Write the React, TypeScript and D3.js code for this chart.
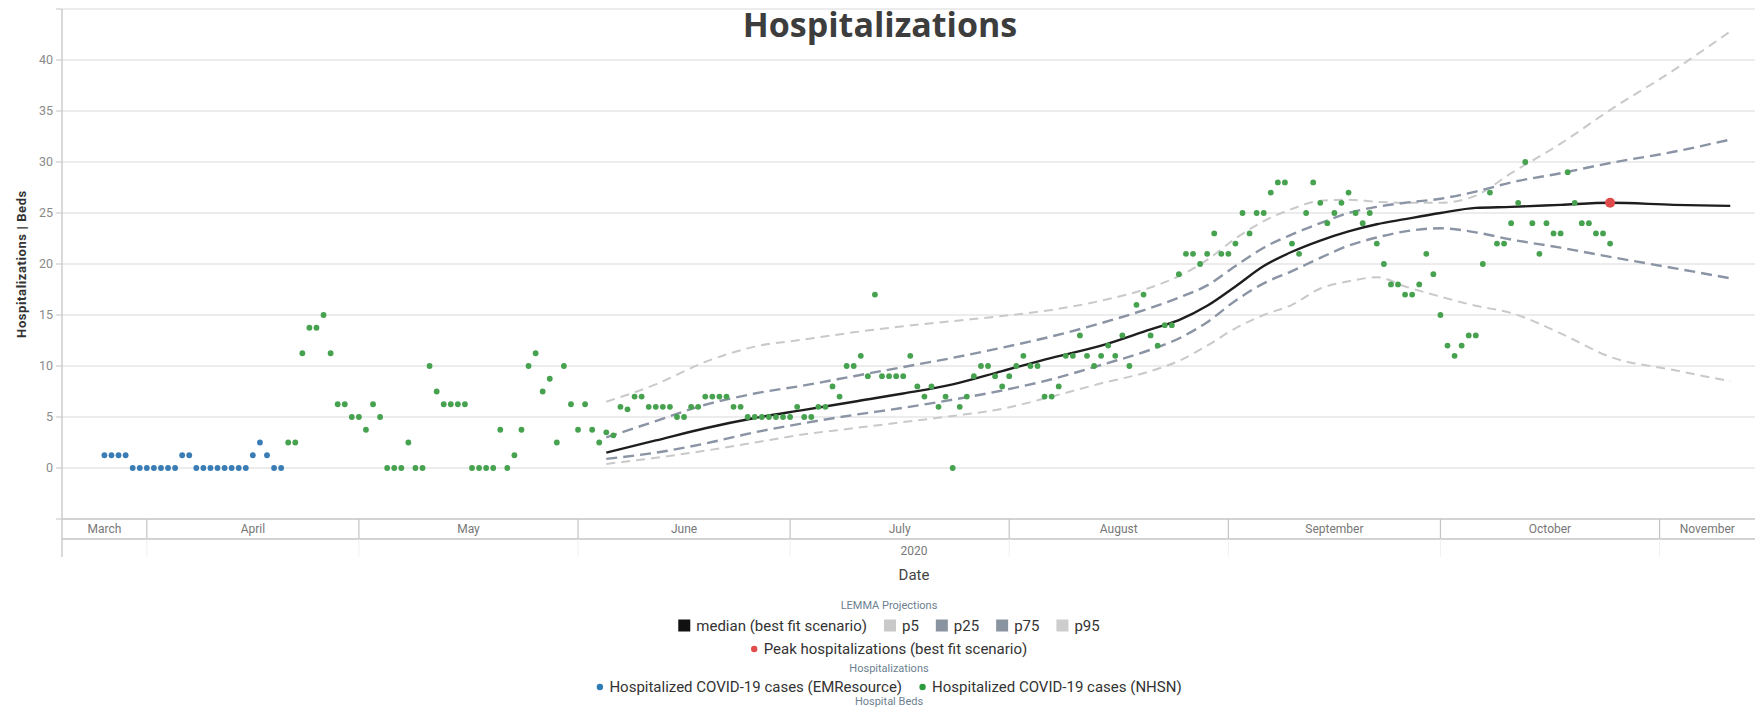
import React, { useRef, useEffect } from 'react';
import * as d3 from 'd3';

// Daily hospitalized COVID-19 cases
const emresourceStart = '2020-03-26';
const emresourceCases = [
  1.25, 1.25, 1.25, 1.25, 0, 0, 0, 0, 0, 0, 0, 1.25, 1.25, 0, 0, 0, 0, 0, 0, 0, 0,
  1.25, 2.5, 1.25, 0, 0,
];

const nhsnStart = '2020-04-21';
const nhsnCases = [
  2.5, 2.5, 11.25, 13.75, 13.75, 15, 11.25, 6.25, 6.25, 5, 5, 3.75, 6.25, 5, 0, 0, 0, 2.5, 0, 0,
  10, 7.5, 6.25, 6.25, 6.25, 6.25, 0, 0, 0, 0, 3.75, 0, 1.25, 3.75, 10, 11.25, 7.5, 8.75, 2.5, 10,
  6.25, 3.75, 6.25, 3.75, 2.5, 3.5, 3.2, 6, 5.75, 7, 7, 6, 6, 6, 6, 5, 5, 6, 6, 7,
  7, 7, 7, 6, 6, 5, 5, 5, 5, 5, 5, 5, 6, 5, 5, 6, 6, 8, 7, 10,
  10, 11, 9, 17, 9, 9, 9, 9, 11, 8, 7, 8, 6, 7, 0, 6, 7, 9, 10, 10,
  9, 8, 9, 10, 11, 10, 10, 7, 7, 8, 11, 11, 13, 11, 10, 11, 12, 11, 13, 10,
  16, 17, 13, 12, 14, 14, 19, 21, 21, 20, 21, 23, 21, 21, 22, 25, 23, 25, 25, 27,
  28, 28, 22, 21, 25, 28, 26, 24, 25, 26, 27, 25, 24, 25, 22, 20, 18, 18, 17, 17,
  18, 21, 19, 15, 12, 11, 12, 13, 13, 20, 27, 22, 22, 24, 26, 30, 24, 21, 24, 23,
  23, 29, 26, 24, 24, 23, 23, 22,
];

// LEMMA projections
const projDates = [
  '2020-06-05', '2020-06-12', '2020-06-19', '2020-06-26', '2020-07-03', '2020-07-10',
  '2020-07-17', '2020-07-24', '2020-07-31', '2020-08-07', '2020-08-14', '2020-08-21',
  '2020-08-25', '2020-08-29', '2020-09-02', '2020-09-06', '2020-09-10', '2020-09-14',
  '2020-09-18', '2020-09-22', '2020-09-26', '2020-10-01', '2020-10-06', '2020-10-11',
  '2020-10-18', '2020-10-25', '2020-11-03', '2020-11-11',
];
const median = [
  1.5, 2.7, 3.9, 4.9, 5.7, 6.5, 7.3, 8.2, 9.5, 10.8, 12.0, 13.6, 14.5, 15.9, 17.8, 19.8, 21.2,
  22.3, 23.2, 23.9, 24.4, 25.0, 25.5, 25.6, 25.8, 26.0, 25.8, 25.7,
];
const p5 = [
  0.4, 1.0, 1.7, 2.5, 3.3, 3.9, 4.5, 5.1, 5.8, 7.0, 8.3, 9.5, 10.5, 12.0, 13.7, 15.0, 16.0,
  17.6, 18.3, 18.7, 17.8, 16.8, 15.9, 15.2, 13.2, 10.9, 9.6, 8.5,
];
const p25 = [
  0.9, 1.5, 2.4, 3.5, 4.4, 5.2, 5.9, 6.7, 7.6, 8.7, 10.1, 11.6, 12.7, 14.3, 16.4, 18.1, 19.3,
  20.6, 21.8, 22.6, 23.2, 23.5, 23.1, 22.4, 21.6, 20.7, 19.6, 18.6,
];
const p75 = [
  3.0, 4.6, 6.2, 7.3, 8.1, 9.0, 9.9, 10.8, 11.8, 12.9, 14.2, 15.7, 16.7, 17.9, 19.8, 21.6, 22.9,
  24.0, 25.0, 25.6, 26.0, 26.4, 27.1, 28.0, 28.9, 29.9, 31.0, 32.2,
];
const p95 = [
  6.5, 8.2, 10.4, 11.9, 12.6, 13.3, 13.9, 14.4, 14.9, 15.5, 16.4, 17.7, 18.8, 20.4, 22.5, 24.2,
  25.4, 26.2, 26.3, 26.1, 26.0, 26.0, 26.7, 28.9, 31.8, 35.1, 39.0, 42.8,
];

const peakDate = '2020-10-25';
const peakValue = 26.0;

const yTicks = [0, 5, 10, 15, 20, 25, 30, 35, 40];
const monthLabels = ['March', 'April', 'May', 'June', 'July', 'August', 'September', 'October', 'November'];

const W = 1755;
const H = 710;
const font = 'Roboto, "DejaVu Sans", sans-serif';

const App: React.FC = () => {
  const svgRef = useRef<SVGSVGElement>(null);

  useEffect(() => {
    if (!svgRef.current) return;
    document.body.style.margin = '0';
    const svg = d3.select(svgRef.current);
    svg.selectAll('*').remove();

    const parse = d3.timeParse('%Y-%m-%d');
    const left = 62;
    const right = W;

    const x = d3
      .scaleTime()
      .domain([new Date(2020, 2, 20), new Date(2020, 10, 14, 12)])
      .range([left, right]);
    const y = d3.scaleLinear().domain([-5, 45]).range([519, 9]);

    // grid lines
    svg
      .append('g')
      .selectAll('line')
      .data(d3.range(0, 50, 5))
      .enter()
      .append('line')
      .attr('x1', left)
      .attr('x2', right)
      .attr('y1', (d) => y(d))
      .attr('y2', (d) => y(d))
      .attr('stroke', '#e6e6e6')
      .attr('stroke-width', 1.5);

    // y axis
    svg
      .append('line')
      .attr('x1', left)
      .attr('x2', left)
      .attr('y1', y(45))
      .attr('y2', 557)
      .attr('stroke', '#cdcdcd')
      .attr('stroke-width', 1.5);

    svg
      .append('g')
      .selectAll('line')
      .data(d3.range(-5, 50, 5))
      .enter()
      .append('line')
      .attr('x1', left - 6)
      .attr('x2', left)
      .attr('y1', (d) => y(d))
      .attr('y2', (d) => y(d))
      .attr('stroke', '#cdcdcd')
      .attr('stroke-width', 1.2);

    svg
      .append('g')
      .selectAll('text')
      .data(yTicks)
      .enter()
      .append('text')
      .attr('x', left - 9)
      .attr('y', (d) => y(d))
      .attr('dy', '0.35em')
      .attr('text-anchor', 'end')
      .style('font-family', font)
      .style('font-size', '12.5px')
      .style('fill', '#8a8a8a')
      .text((d) => d);

    svg
      .append('text')
      .attr('transform', `translate(21,${y(20)}) rotate(-90)`)
      .attr('text-anchor', 'middle')
      .attr('dy', '0.35em')
      .style('font-family', font)
      .style('font-size', '13px')
      .style('font-weight', 'bold')
      .style('letter-spacing', '0.6px')
      .style('fill', '#333')
      .text('Hospitalizations | Beds');

    // x axis month band
    const bandTop = y(-5);
    const bandBottom = 539;
    const axisG = svg.append('g');
    [bandTop, bandBottom].forEach((yy) =>
      axisG
        .append('line')
        .attr('x1', left)
        .attr('x2', right)
        .attr('y1', yy)
        .attr('y2', yy)
        .attr('stroke', '#c4c4c4')
        .attr('stroke-width', 1.5),
    );
    const [d0, d1] = x.domain();
    const months = d3.timeMonth.range(new Date(2020, 2, 1), new Date(2020, 11, 1));
    months.forEach((m, i) => {
      const start = m < d0 ? d0 : m;
      const next = d3.timeMonth.offset(m, 1);
      const end = next > d1 ? d1 : next;
      if (m > d0) {
        axisG
          .append('line')
          .attr('x1', x(m))
          .attr('x2', x(m))
          .attr('y1', bandTop)
          .attr('y2', bandBottom)
          .attr('stroke', '#c4c4c4')
          .attr('stroke-width', 1.2);
        axisG
          .append('line')
          .attr('x1', x(m))
          .attr('x2', x(m))
          .attr('y1', bandBottom)
          .attr('y2', 557)
          .attr('stroke', '#f0f0f0');
      }
      axisG
        .append('text')
        .attr('x', (x(start) + x(end)) / 2)
        .attr('y', (bandTop + bandBottom) / 2)
        .attr('dy', '0.35em')
        .attr('text-anchor', 'middle')
        .style('font-family', font)
        .style('font-size', '12px')
        .style('fill', '#777')
        .text(monthLabels[i]);
    });

    const axisMid = 914;
    axisG
      .append('text')
      .attr('x', axisMid)
      .attr('y', 551)
      .attr('dy', '0.35em')
      .attr('text-anchor', 'middle')
      .style('font-family', font)
      .style('font-size', '12px')
      .style('fill', '#777')
      .text('2020');
    axisG
      .append('text')
      .attr('x', axisMid)
      .attr('y', 575)
      .attr('dy', '0.35em')
      .attr('text-anchor', 'middle')
      .style('font-family', font)
      .style('font-size', '15px')
      .style('fill', '#444')
      .text('Date');

    // projection lines
    const projPts = (vals: number[]) => projDates.map((d, i) => ({ date: parse(d) as Date, v: vals[i] }));
    const line = d3
      .line<{ date: Date; v: number }>()
      .x((d) => x(d.date))
      .y((d) => y(d.v))
      .curve(d3.curveMonotoneX);

    const projections = [
      { vals: p5, color: '#c9c9c9', width: 2, dash: '9,6' },
      { vals: p95, color: '#c9c9c9', width: 2, dash: '9,6' },
      { vals: p25, color: '#8a94a4', width: 2.4, dash: '11,6' },
      { vals: p75, color: '#8a94a4', width: 2.4, dash: '11,6' },
      { vals: median, color: '#1e1e1e', width: 2.4, dash: null },
    ];
    projections.forEach((p) => {
      svg
        .append('path')
        .datum(projPts(p.vals))
        .attr('d', line)
        .attr('fill', 'none')
        .attr('stroke', p.color)
        .attr('stroke-width', p.width)
        .attr('stroke-dasharray', p.dash);
    });

    // observed points
    const daily = (start: string, vals: number[]) => {
      const s = parse(start) as Date;
      return vals.map((v, i) => ({ date: d3.timeDay.offset(s, i), v }));
    };
    const series = [
      { pts: daily(emresourceStart, emresourceCases), color: '#3a7db5' },
      { pts: daily(nhsnStart, nhsnCases), color: '#46a24f' },
    ];
    series.forEach((s) => {
      svg
        .append('g')
        .selectAll('circle')
        .data(s.pts)
        .enter()
        .append('circle')
        .attr('cx', (d) => x(d.date))
        .attr('cy', (d) => y(d.v))
        .attr('r', 2.9)
        .attr('fill', s.color);
    });

    svg
      .append('circle')
      .attr('cx', x(parse(peakDate) as Date))
      .attr('cy', y(peakValue))
      .attr('r', 5)
      .attr('fill', '#e04b4b');

    // title
    svg
      .append('text')
      .attr('x', 880)
      .attr('y', 37)
      .attr('text-anchor', 'middle')
      .style('font-family', '"Open Sans", sans-serif')
      .style('font-size', '34px')
      .style('font-weight', 'bold')
      .style('fill', '#3d3d3d')
      .text('Hospitalizations');

    // legend
    const legendCx = 889;
    const groupTitle = (text: string, yy: number) =>
      svg
        .append('text')
        .attr('x', legendCx)
        .attr('y', yy)
        .attr('dy', '0.35em')
        .attr('text-anchor', 'middle')
        .style('font-family', font)
        .style('font-size', '11px')
        .style('fill', '#6d7f90')
        .text(text);

    type Item = { label: string; color: string; shape: 'square' | 'dot' };
    const legendRow = (items: Item[], yy: number) => {
      const g = svg.append('g');
      let cursor = 0;
      items.forEach((it, i) => {
        if (it.shape === 'square') {
          g.append('rect')
            .attr('x', cursor)
            .attr('y', yy - 6.5)
            .attr('width', 12)
            .attr('height', 12)
            .attr('fill', it.color);
          cursor += 18;
        } else {
          g.append('circle').attr('cx', cursor + 3.5).attr('cy', yy).attr('r', 3.2).attr('fill', it.color);
          cursor += 13;
        }
        const t = g
          .append('text')
          .attr('x', cursor)
          .attr('y', yy)
          .attr('dy', '0.35em')
          .style('font-family', font)
          .style('font-size', '15px')
          .style('fill', '#333')
          .text(it.label);
        cursor += (t.node() as SVGTextElement).getComputedTextLength();
        if (i < items.length - 1) cursor += 17;
      });
      g.attr('transform', `translate(${legendCx - cursor / 2},0)`);
    };

    groupTitle('LEMMA Projections', 605);
    legendRow(
      [
        { label: 'median (best fit scenario)', color: '#111', shape: 'square' },
        { label: 'p5', color: '#c9c9c9', shape: 'square' },
        { label: 'p25', color: '#8a94a0', shape: 'square' },
        { label: 'p75', color: '#8a94a0', shape: 'square' },
        { label: 'p95', color: '#cdcdcd', shape: 'square' },
      ],
      626,
    );
    legendRow([{ label: 'Peak hospitalizations (best fit scenario)', color: '#e04b4b', shape: 'dot' }], 649);
    groupTitle('Hospitalizations', 668);
    legendRow(
      [
        { label: 'Hospitalized COVID-19 cases (EMResource)', color: '#2f7bb3', shape: 'dot' },
        { label: 'Hospitalized COVID-19 cases (NHSN)', color: '#2e9a3e', shape: 'dot' },
      ],
      687,
    );
    groupTitle('Hospital Beds', 701);
  }, []);

  return <svg ref={svgRef} width={W} height={H} style={{ display: 'block', background: '#fff' }} />;
};

export default App;
